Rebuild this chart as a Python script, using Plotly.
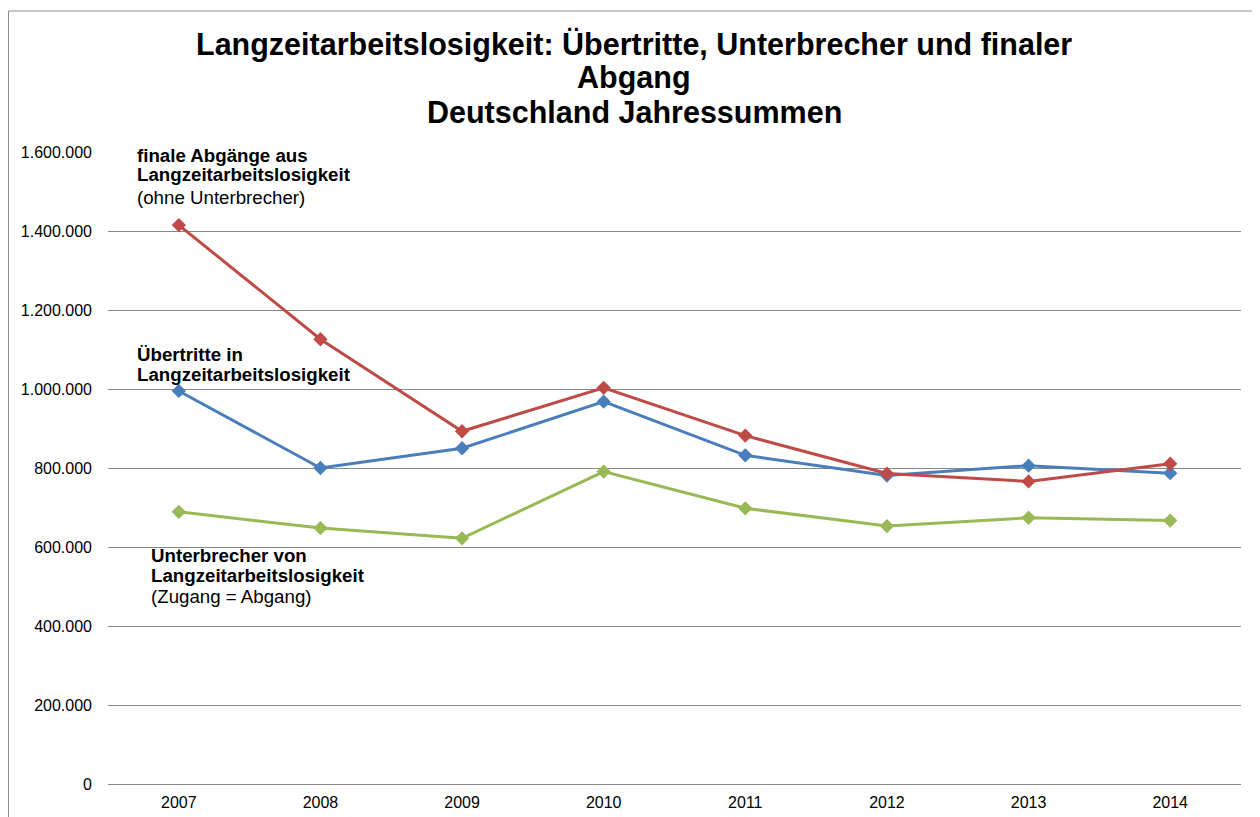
import plotly.graph_objects as go

years = ["2007", "2008", "2009", "2010", "2011", "2012", "2013", "2014"]
uebertritte = [995000, 800000, 850000, 968000, 832000, 781000, 806000, 787000]
finale_abgaenge = [1415000, 1126000, 893000, 1003000, 882000, 786000, 766000, 811000]
unterbrecher = [689000, 648000, 622000, 791000, 698000, 653000, 674000, 667000]
y_ticks = [0, 200000, 400000, 600000, 800000, 1000000, 1200000, 1400000, 1600000]
y_tick_labels = ["0", "200.000", "400.000", "600.000", "800.000", "1.000.000", "1.200.000", "1.400.000", "1.600.000"]

# the page body has an 8px margin, so figure coords = page coords - 8
OFF = 8
W, H = 1260, 817
L, R, T, B = 100, 27, 144, 41
pw, ph = W - L - R, H - T - B

def px_x(p):
    return (p - OFF - L) / pw

def px_y(p):
    return (H - B - (p - OFF)) / ph

fig = go.Figure()
series = [
    ("Übertritte", uebertritte, "#4A7EBB"),
    ("finale Abgänge", finale_abgaenge, "#BE4B48"),
    ("Unterbrecher", unterbrecher, "#98B954"),
]
for name, vals, col in series:
    fig.add_trace(go.Scatter(
        x=years, y=vals, name=name, mode="lines+markers",
        line=dict(color=col, width=3),
        marker=dict(symbol="diamond", size=11, color=col),
        showlegend=False,
    ))

fnt = "Liberation Sans, Arial, sans-serif"
fig.update_layout(
    width=W, height=H,
    margin=dict(l=L, r=R, t=T, b=B),
    paper_bgcolor="white", plot_bgcolor="white",
    font=dict(family=fnt, color="black"),
    xaxis=dict(
        type="category", range=[-0.5, 7.5], showgrid=False,
        showline=False, ticks="", tickfont=dict(size=16),
        ticklabelstandoff=7,
    ),
    yaxis=dict(
        range=[0, 1600000], tickvals=y_ticks, ticktext=y_tick_labels,
        showgrid=True, gridcolor="#888888", gridwidth=1,
        zeroline=True, zerolinecolor="#888888", zerolinewidth=1,
        showline=False, ticks="", tickfont=dict(size=16),
        ticklabelstandoff=15,
    ),
)

title_lines = [
    (45, "<b>Langzeitarbeitslosigkeit: Übertritte, Unterbrecher und finaler</b>"),
    (77, "<b>Abgang</b>"),
    (112, "<b>Deutschland Jahressummen</b>"),
]
for yp, txt in title_lines:
    fig.add_annotation(
        x=px_x(634), y=px_y(yp), xref="paper", yref="paper",
        xanchor="center", yanchor="middle", showarrow=False,
        text=txt, font=dict(size=30.5, family=fnt, color="black"),
    )

label_lines = [
    (135, 155, "<b>finale Abgänge aus</b>"),
    (135, 175, "<b>Langzeitarbeitslosigkeit</b>"),
    (135, 197, "(ohne Unterbrecher)"),
    (135, 354, "<b>Übertritte in</b>"),
    (135, 374, "<b>Langzeitarbeitslosigkeit</b>"),
    (149, 555, "<b>Unterbrecher von</b>"),
    (149, 575, "<b>Langzeitarbeitslosigkeit</b>"),
    (149, 596, "(Zugang = Abgang)"),
]
for xp, yp, txt in label_lines:
    fig.add_annotation(
        x=px_x(xp), y=px_y(yp), xref="paper", yref="paper",
        xanchor="left", yanchor="middle", align="left", showarrow=False,
        text=txt, font=dict(size=18.7, family=fnt, color="black"),
    )

fig.add_shape(type="rect", xref="paper", yref="paper",
              x0=px_x(8.5), x1=px_x(1258), y0=px_y(840), y1=px_y(11),
              line=dict(color="#8E8E8E", width=1), layer="below")

fig.write_html("out.html")
